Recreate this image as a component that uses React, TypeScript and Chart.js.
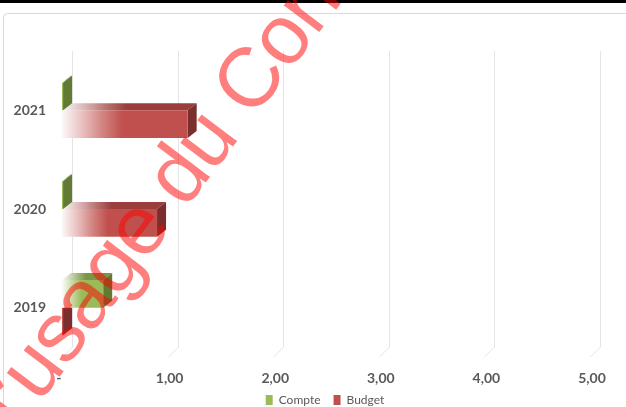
import React, { useEffect, useRef } from 'react';
import { Chart, registerables } from 'chart.js';

Chart.register(...registerables);

// ---- data ----
const categories: string[] = ['2021', '2020', '2019'];
const seriesNames: string[] = ['Compte', 'Budget'];
const compteValues: number[] = [0.01, 0.01, 0.39];
const budgetValues: number[] = [1.19, 0.9, 0.01];
const xTickValues: number[] = [0, 1, 2, 3, 4, 5];
const xTickLabels: string[] = ['-   ', '1,00', '2,00', '3,00', '4,00', '5,00'];
const watermarkText = 'À l’usage du Conseil';
const watermarkLead = 'À l’';

// ---- styles ----
const W = 626;
const H = 426;
const BDX = 9; // bar depth
const BDY = 7;
const GDX = 10; // grid depth
const GDY = 10;
const TEXT = '#595959';

const palettes = [
  { front: '#9bbb59', top: '#7b9646', side: '#617a34' },
  { front: '#c0504d', top: '#9b3d3b', side: '#7a2e2d' },
];

function hexToRgb(h: string): number[] {
  const n = parseInt(h.slice(1), 16);
  return [(n >> 16) & 255, (n >> 8) & 255, n & 255];
}
function mixWhite(h: string, t: number): string {
  const [r, g, b] = hexToRgb(h);
  const m = (c: number) => Math.round(c + (255 - c) * t);
  return `rgb(${m(r)},${m(g)},${m(b)})`;
}
function fadeGradient(c: CanvasRenderingContext2D, x0: number, x1: number, color: string) {
  const g = c.createLinearGradient(x0, 0, Math.max(x1, x0 + 1), 0);
  g.addColorStop(0, mixWhite(color, 0.96));
  g.addColorStop(0.18, mixWhite(color, 0.6));
  g.addColorStop(0.32, mixWhite(color, 0.3));
  g.addColorStop(0.48, color);
  g.addColorStop(1, color);
  return g;
}

const bar3dPlugin = {
  id: 'bar3d',
  afterLayout(chart: any) {
    const lg = chart.legend;
    if (lg) {
      lg.left += 30;
      lg.right += 30;
      lg.top -= 10;
      lg.bottom -= 10;
    }
  },
  beforeDraw(chart: any) {
    const c: CanvasRenderingContext2D = chart.ctx;
    c.save();
    c.fillStyle = '#ffffff';
    c.fillRect(0, 0, W, H);
    c.fillStyle = '#000000';
    c.fillRect(0, 0, W, 3);
    c.strokeStyle = '#d9d9d9';
    c.lineWidth = 1;
    c.beginPath();
    c.moveTo(3.5, H);
    c.lineTo(3.5, 17.5);
    c.arcTo(3.5, 13.5, 7.5, 13.5, 4);
    c.lineTo(W + 2, 13.5);
    c.stroke();
    c.restore();
  },
  beforeDatasetsDraw(chart: any) {
    const c: CanvasRenderingContext2D = chart.ctx;
    const xs = chart.scales.x;
    const area = chart.chartArea;
    c.save();
    c.strokeStyle = '#e4e4e4';
    c.lineWidth = 1;
    xTickValues.forEach((v) => {
      const px = Math.round(xs.getPixelForValue(v)) + 0.5;
      c.beginPath();
      c.moveTo(px + GDX, area.top - GDY);
      c.lineTo(px + GDX, area.bottom - GDY);
      c.lineTo(px, area.bottom);
      c.stroke();
    });
    for (let d = chart.data.datasets.length - 1; d >= 0; d--) {
      const meta = chart.getDatasetMeta(d);
      const pal = palettes[d];
      meta.data.forEach((el: any) => {
        const { x, y, base, height } = el.getProps(['x', 'y', 'base', 'height'], true);
        const top = y - height / 2;
        const bottom = y + height / 2;
        c.fillStyle = fadeGradient(c, base, x + BDX, pal.top);
        c.beginPath();
        c.moveTo(base, top);
        c.lineTo(x, top);
        c.lineTo(x + BDX, top - BDY);
        c.lineTo(base + BDX, top - BDY);
        c.closePath();
        c.fill();
        c.fillStyle = pal.side;
        c.beginPath();
        c.moveTo(x, top);
        c.lineTo(x + BDX, top - BDY);
        c.lineTo(x + BDX, bottom - BDY);
        c.lineTo(x, bottom);
        c.closePath();
        c.fill();
      });
    }
    c.restore();
  },
  afterDraw(chart: any) {
    const c: CanvasRenderingContext2D = chart.ctx;
    c.save();
    c.translate(39, 404);
    c.rotate((-53 * Math.PI) / 180);
    c.font = '84px "Liberation Sans", Arial, sans-serif';
    (c as any).letterSpacing = '-1.5px';
    c.fillStyle = 'rgba(255,0,0,0.5)';
    c.textBaseline = 'alphabetic';
    c.textAlign = 'left';
    const lead = c.measureText(watermarkLead).width;
    c.fillText(watermarkText, -lead, 0);
    c.restore();
  },
};

function frontColor(d: number) {
  return (ctx: any) => {
    const pal = palettes[d];
    const chart = ctx.chart;
    if (ctx.type !== 'data' || !chart.chartArea || ctx.raw === undefined) return pal.front;
    const xs = chart.scales.x;
    const x0 = xs.getPixelForValue(0);
    const x1 = xs.getPixelForValue(ctx.raw);
    return fadeGradient(chart.ctx, x0, x1, pal.front);
  };
}

export default function App() {
  const ref = useRef<HTMLCanvasElement | null>(null);
  useEffect(() => {
    if (!ref.current) return;
    const chart = new Chart(ref.current, {
      type: 'bar',
      data: {
        labels: categories,
        datasets: [
          { label: seriesNames[0], data: compteValues, backgroundColor: frontColor(0) as any, borderWidth: 0 },
          { label: seriesNames[1], data: budgetValues, backgroundColor: frontColor(1) as any, borderWidth: 0 },
        ],
      },
      options: {
        indexAxis: 'y',
        responsive: false,
        animation: false,
        devicePixelRatio: 1,
        datasets: { bar: { barPercentage: 1, categoryPercentage: 0.56 } },
        layout: { padding: { left: 0, right: 36, top: 61, bottom: 0 } },
        plugins: {
          tooltip: { enabled: false },
          legend: {
            position: 'bottom',
            labels: {
              boxWidth: 7,
              boxHeight: 10,
              padding: 13,
              color: TEXT,
              font: { family: 'Lato, "Open Sans", sans-serif', size: 12 },
            },
          },
        },
        scales: {
          x: {
            type: 'linear',
            min: 0,
            max: 5,
            afterFit: (s: any) => { s.height = 34; },
            afterBuildTicks: (s: any) => { s.ticks = xTickValues.map((v) => ({ value: v })); },
            grid: { display: false, drawTicks: false },
            border: { display: false },
            ticks: {
              padding: 13,
              labelOffset: 2,
              color: TEXT,
              font: { family: 'Lato, "Open Sans", sans-serif', size: 14, weight: 'bold' },
              callback: (v: any) => xTickLabels[xTickValues.indexOf(Number(v))] ?? '',
            },
          },
          y: {
            afterFit: (s: any) => { s.width = 62; },
            grid: { display: false, drawTicks: false },
            border: { display: false },
            ticks: {
              padding: 16,
              color: TEXT,
              font: { family: 'Lato, "Open Sans", sans-serif', size: 14, weight: 'bold' },
            },
          },
        },
      },
      plugins: [bar3dPlugin],
    } as any);
    return () => chart.destroy();
  }, []);
  return (
    <div style={{ position: 'fixed', left: 0, top: 0, width: W, height: 407, overflow: 'hidden', background: '#fff' }}>
      <canvas ref={ref} width={W} height={H} style={{ display: 'block' }} />
    </div>
  );
}
